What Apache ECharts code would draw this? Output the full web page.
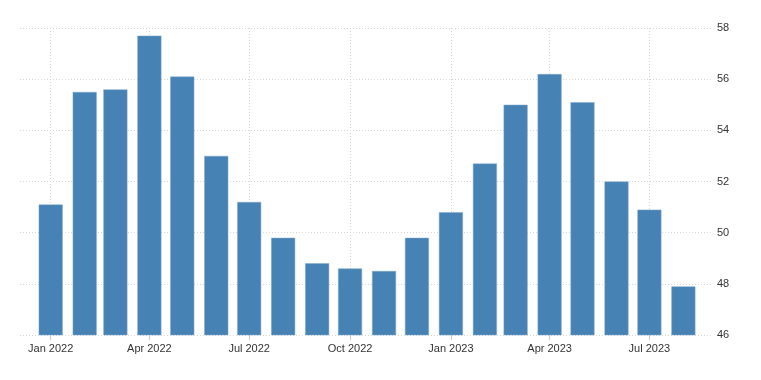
<!DOCTYPE html>
<html>
<head>
<meta charset="utf-8">
<script src="https://cdn.jsdelivr.net/npm/echarts@6/dist/echarts.min.js"></script>
<style>
html,body{margin:0;padding:0;background:#fff;}
#chart{width:761px;height:380px;}
</style>
</head>
<body>
<div id="chart"></div>
<script>
var months = ['2022-01','2022-02','2022-03','2022-04','2022-05','2022-06','2022-07','2022-08','2022-09','2022-10','2022-11','2022-12','2023-01','2023-02','2023-03','2023-04','2023-05','2023-06','2023-07','2023-08'];
var values = [51.1,55.5,55.6,57.7,56.1,53.0,51.2,49.8,48.8,48.6,48.5,49.8,50.8,52.7,55.0,56.2,55.1,52.0,50.9,47.9];
var tickMonths = ['2022-01','2022-04','2022-07','2022-10','2023-01','2023-04','2023-07'];
var yTicks = [46,48,50,52,54,56,58];

function ts(m){ var p = m.split('-'); return Date.UTC(+p[0], +p[1]-1, 1); }
var data = months.map(function(m,i){ return [ts(m), values[i]]; });
var tickVals = tickMonths.map(ts);
var MON = ['Jan','Feb','Mar','Apr','May','Jun','Jul','Aug','Sep','Oct','Nov','Dec'];

var chart = echarts.init(document.getElementById('chart'));
chart.setOption({
  animation:false,
  grid:{left:20,right:48,top:28,bottom:45,containLabel:false},
  xAxis:{
    type:'value',
    min: Date.UTC(2021,11,4),
    max: Date.UTC(2023,7,28),
    axisLine:{show:false},
    axisTick:{show:true,customValues:tickVals,length:5,lineStyle:{color:'#ccc'}},
    splitLine:{show:true,lineStyle:{color:'#d6d6d6',type:[1,2],width:1}},
    axisLabel:{
      customValues:tickVals,
      color:'#333',fontFamily:'Liberation Sans, Arial, sans-serif',fontSize:11,margin:8,
      formatter:function(v){ var d=new Date(v); return MON[d.getUTCMonth()]+' '+d.getUTCFullYear(); }
    }
  },
  yAxis:{
    type:'value',position:'right',min:46,max:58,interval:2,
    axisLine:{show:false},axisTick:{show:false},
    splitLine:{show:true,lineStyle:{color:'#d6d6d6',type:[1,2],width:1}},
    axisLabel:{color:'#333',fontFamily:'Liberation Sans, Arial, sans-serif',fontSize:11,margin:4}
  },
  series:[{
    type:'bar',
    data:data,
    barWidth:24,
    itemStyle:{color:'#4682b4',borderColor:'#7ea9cf',borderWidth:0.5}
  }]
});
</script>
</body>
</html>
